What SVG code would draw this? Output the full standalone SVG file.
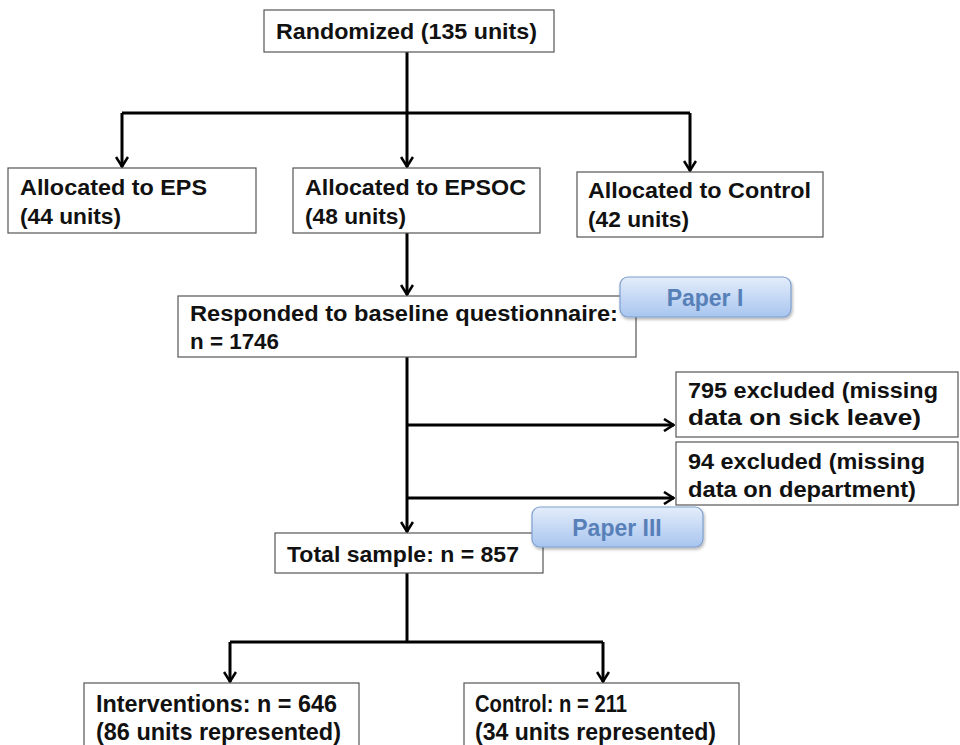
<svg xmlns="http://www.w3.org/2000/svg" width="960" height="745" viewBox="0 0 960 745">
<defs>
<marker id="arr" viewBox="0 0 12 14" refX="11" refY="7" markerWidth="12" markerHeight="14" markerUnits="userSpaceOnUse" orient="auto">
<path d="M1,1 L10.5,7 L1,13" fill="none" stroke="#000" stroke-width="2.6" stroke-linejoin="miter"/>
</marker>
<linearGradient id="badge" x1="0" y1="0" x2="0" y2="1">
<stop offset="0" stop-color="#e4edfa"/>
<stop offset="1" stop-color="#a8c5ef"/>
</linearGradient>
<filter id="sh" x="-10%" y="-20%" width="120%" height="150%">
<feDropShadow dx="1" dy="2" stdDeviation="1.5" flood-color="#000" flood-opacity="0.3"/>
</filter>
</defs>
<style>
.box{fill:#fff;stroke:#555;stroke-width:1.2}
.t{font-family:"Liberation Sans",Arial,sans-serif;font-weight:bold;font-size:22px;fill:#111}
.n{font-family:"Liberation Sans",Arial,sans-serif;font-weight:bold;font-size:24px;fill:#111}
.c{fill:none;stroke:#000;stroke-width:3}
.b{fill:url(#badge);stroke:#7e9fcf;stroke-width:1.2}
.bt{font-family:"Liberation Sans",Arial,sans-serif;font-weight:bold;font-size:23px;fill:#5880b8;text-anchor:middle}
</style>
<rect width="960" height="745" fill="#fff"/>
<g id="connectors">
<path class="c" d="M407,52 V113"/>
<path class="c" d="M122,113 H690"/>
<path class="c" d="M122,113 V167" marker-end="url(#arr)"/>
<path class="c" d="M407,113 V167" marker-end="url(#arr)"/>
<path class="c" d="M690,113 V171" marker-end="url(#arr)"/>
<path class="c" d="M407,233 V295" marker-end="url(#arr)"/>
<path class="c" d="M407,357 V532" marker-end="url(#arr)"/>
<path class="c" d="M407,425 H674" marker-end="url(#arr)"/>
<path class="c" d="M407,498 H674" marker-end="url(#arr)"/>
<path class="c" d="M407,573 V642"/>
<path class="c" d="M230,642 H603"/>
<path class="c" d="M230,642 V682" marker-end="url(#arr)"/>
<path class="c" d="M603,642 V682" marker-end="url(#arr)"/>
</g>
<g id="randomized">
<rect class="box" x="264" y="10" width="290" height="42"/>
<text class="t" x="276" y="39" textLength="261" lengthAdjust="spacingAndGlyphs">Randomized (135 units)</text>
</g>
<g id="eps">
<rect class="box" x="8" y="168" width="248" height="65"/>
<text class="t" x="20" y="195" textLength="187" lengthAdjust="spacingAndGlyphs">Allocated to EPS</text>
<text class="t" x="20" y="224" textLength="101" lengthAdjust="spacingAndGlyphs">(44 units)</text>
</g>
<g id="epsoc">
<rect class="box" x="293" y="168" width="247" height="65"/>
<text class="t" x="305" y="195" textLength="221" lengthAdjust="spacingAndGlyphs">Allocated to EPSOC</text>
<text class="t" x="305" y="224" textLength="101" lengthAdjust="spacingAndGlyphs">(48 units)</text>
</g>
<g id="control-alloc">
<rect class="box" x="577" y="172" width="246" height="65"/>
<text class="t" x="588" y="198" textLength="223" lengthAdjust="spacingAndGlyphs">Allocated to Control</text>
<text class="t" x="588" y="227" textLength="101" lengthAdjust="spacingAndGlyphs">(42 units)</text>
</g>
<g id="responded">
<rect class="box" x="178" y="296" width="458" height="61"/>
<text class="t" x="190" y="321" textLength="428" lengthAdjust="spacingAndGlyphs">Responded to baseline questionnaire:</text>
<text class="t" x="190" y="349" textLength="89" lengthAdjust="spacingAndGlyphs">n = 1746</text>
</g>
<g id="paper1">
<rect class="b" x="620" y="277" width="171" height="40" rx="8" filter="url(#sh)"/>
<text class="bt" x="705" y="306">Paper I</text>
</g>
<g id="excl-sick">
<rect class="box" x="676" y="372" width="282" height="65"/>
<text class="t" x="688" y="398" textLength="250" lengthAdjust="spacingAndGlyphs">795 excluded (missing</text>
<text class="t" x="688" y="425" textLength="233" lengthAdjust="spacingAndGlyphs">data on sick leave)</text>
</g>
<g id="excl-dept">
<rect class="box" x="676" y="442" width="282" height="63"/>
<text class="t" x="688" y="469" textLength="237" lengthAdjust="spacingAndGlyphs">94 excluded (missing</text>
<text class="t" x="688" y="497" textLength="228" lengthAdjust="spacingAndGlyphs">data on department)</text>
</g>
<g id="total">
<rect class="box" x="275" y="533" width="268" height="40"/>
<text class="t" x="287" y="562" textLength="232" lengthAdjust="spacingAndGlyphs">Total sample: n = 857</text>
</g>
<g id="paper3">
<rect class="b" x="532" y="507" width="171" height="40" rx="8" filter="url(#sh)"/>
<text class="bt" x="617" y="536">Paper III</text>
</g>
<g id="interventions">
<rect class="box" x="84" y="683" width="275" height="70"/>
<text class="n" x="96" y="712" textLength="241" lengthAdjust="spacingAndGlyphs">Interventions: n = 646</text>
<text class="n" x="96" y="740" textLength="245" lengthAdjust="spacingAndGlyphs">(86 units represented)</text>
</g>
<g id="control">
<rect class="box" x="464" y="683" width="275" height="70"/>
<text class="n" x="475" y="712" textLength="152" lengthAdjust="spacingAndGlyphs">Control: n = 211</text>
<text class="n" x="475" y="740" textLength="241" lengthAdjust="spacingAndGlyphs">(34 units represented)</text>
</g>
</svg>
